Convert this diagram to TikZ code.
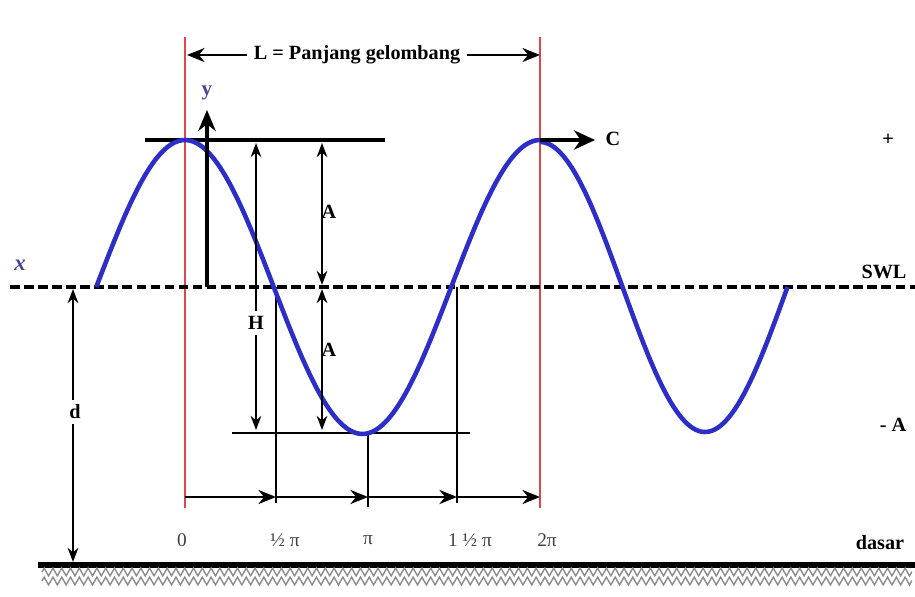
\documentclass[tikz,border=0pt]{standalone}
\usepackage{fontspec}
\setmainfont{Liberation Serif}
\usetikzlibrary{arrows.meta, decorations.pathmorphing}
\definecolor{wblue}{RGB}{45,45,200}
\definecolor{lred}{RGB}{225,70,70}
\definecolor{xblue}{RGB}{70,70,150}

\begin{document}
\begin{tikzpicture}[
  x=0.02cm, y=-0.02cm,
  >={Stealth[length=8pt,width=6pt]},
  wave/.style={draw=wblue, line width=2.6pt},
  refline/.style={draw=lred, line width=1.2pt},
  guide/.style={draw=black, line width=1.3pt},
  dimline/.style={<->, line width=1.3pt, >={Stealth[length=8pt,width=6pt]}},
  lbl/.style={font=\fontsize{11.5}{13}\selectfont\bfseries, fill=white, inner sep=1pt},
  tick/.style={font=\fontsize{11}{13}\selectfont, text=black!75}
]
  \useasboundingbox (0,0) rectangle (915,597);

  % reference points
  \coordinate (crest1) at (185,140);
  \coordinate (crest2) at (540,140);
  \coordinate (swlL) at (10,287);
  \coordinate (swlR) at (915,287);
  \coordinate (gndL) at (38,565);
  \coordinate (gndR) at (915,565);

  % red lines (0 and 2 pi)
  \draw[refline] (185,37) -- (185,508);
  \draw[refline] (540,37) -- (540,508);

  % still water level and bed
  \draw[line width=2pt, dash pattern=on 5.5pt off 2.5pt] (swlL) -- (swlR);
  \draw[line width=3.2pt] (gndL) -- (gndR);
  \foreach \r in {572,581}
    \draw[black!45, line width=0.8pt, decorate, decoration={zigzag, segment length=5pt, amplitude=2.2pt}] (42,\r) -- (912,\r);

  % crest and trough lines
  \draw[line width=1.8pt] (145,140) -- (385,140);
  \draw[line width=1.4pt] (232,433) -- (470,433);

  % guides down to the phase axis
  \draw[guide] (276,287) -- (276,503);
  \draw[guide] (368,433) -- (368,507);
  \draw[guide] (457,287) -- (457,503);

  % the wave
  \draw[wave] plot[domain=-90:360, samples=120, smooth] ({185+(\x/360)*355},{287-147*cos(\x)});
  \draw[wave] plot[domain=0:270, samples=90, smooth] ({540+(\x/360)*330},{287-145*cos(\x)});

  % y axis and celerity
  \coordinate (yfoot) at (207,287);
  \coordinate (ytip) at (207,110);
  \draw[->, line width=2.4pt, >={Stealth[length=12pt,width=10pt]}] (yfoot) -- (ytip);
  \node[font=\fontsize{12}{13}\selectfont\bfseries, text=xblue] (ylab) at (207,93) {y};
  \coordinate (ctip) at (595,140);
  \draw[->, line width=2.8pt, >={Stealth[length=12pt,width=11pt]}] (crest2) -- (ctip);
  \node[lbl] (clab) at (613,139) {C};
  \node[font=\fontsize{13}{13}\selectfont\itshape\bfseries, text=xblue] (xlab) at (20,265) {x};

  % wave length
  \coordinate (L0) at (187,55);
  \coordinate (L1) at (540,55);
  \draw[dimline, >={Stealth[length=10pt,width=8pt]}] (L0) -- (L1);
  \node[lbl, inner xsep=4pt] (llab) at (357,55) {L = Panjang gelombang};

  % height and amplitude
  \coordinate (Htop) at (256,143);
  \coordinate (Hbot) at (256,430);
  \draw[dimline] (Htop) -- (Hbot);
  \node[lbl, inner ysep=3pt] (hlab) at (256,323) {H};
  \coordinate (Atop) at (322,143);
  \coordinate (Amid1) at (322,285);
  \coordinate (Amid2) at (322,289);
  \coordinate (Abot) at (322,430);
  \draw[dimline] (Atop) -- (Amid1);
  \draw[dimline] (Amid2) -- (Abot);
  \node[lbl, fill=none] (a1lab) at (329,212) {A};
  \node[lbl, fill=none] (a2lab) at (329,350) {A};

  % depth
  \coordinate (dtop) at (73,289);
  \coordinate (dbot) at (73,562);
  \draw[dimline] (dtop) -- (dbot);
  \node[lbl, inner ysep=3pt] (dlab) at (75,412) {d};

  % phase axis
  \coordinate (p0) at (185,497);
  \coordinate (p1) at (276,497);
  \coordinate (p2) at (368,497);
  \coordinate (p3) at (457,497);
  \coordinate (p4) at (540,497);
  \foreach \a/\b in {p0/p1, p1/p2, p2/p3, p3/p4}
    \draw[->, line width=1.5pt, >={Stealth[length=10pt,width=8pt]}] (\a) -- (\b);
  \node[tick] (t0) at (182,540) {0};
  \node[tick] (t1) at (285,540) {½ π};
  \node[tick] (t2) at (368,540) {π};
  \node[tick] (t3) at (470,540) {1 ½ π};
  \node[tick] (t4) at (547,540) {2π};

  % right side labels
  \node[lbl] (plus) at (888,140) {+};
  \node[lbl, fill=none] (swl) at (884,272) {SWL};
  \node[lbl] (minA) at (893,425) {- A};
  \node[lbl] (dasar) at (880,543) {dasar};
\end{tikzpicture}
\end{document}
